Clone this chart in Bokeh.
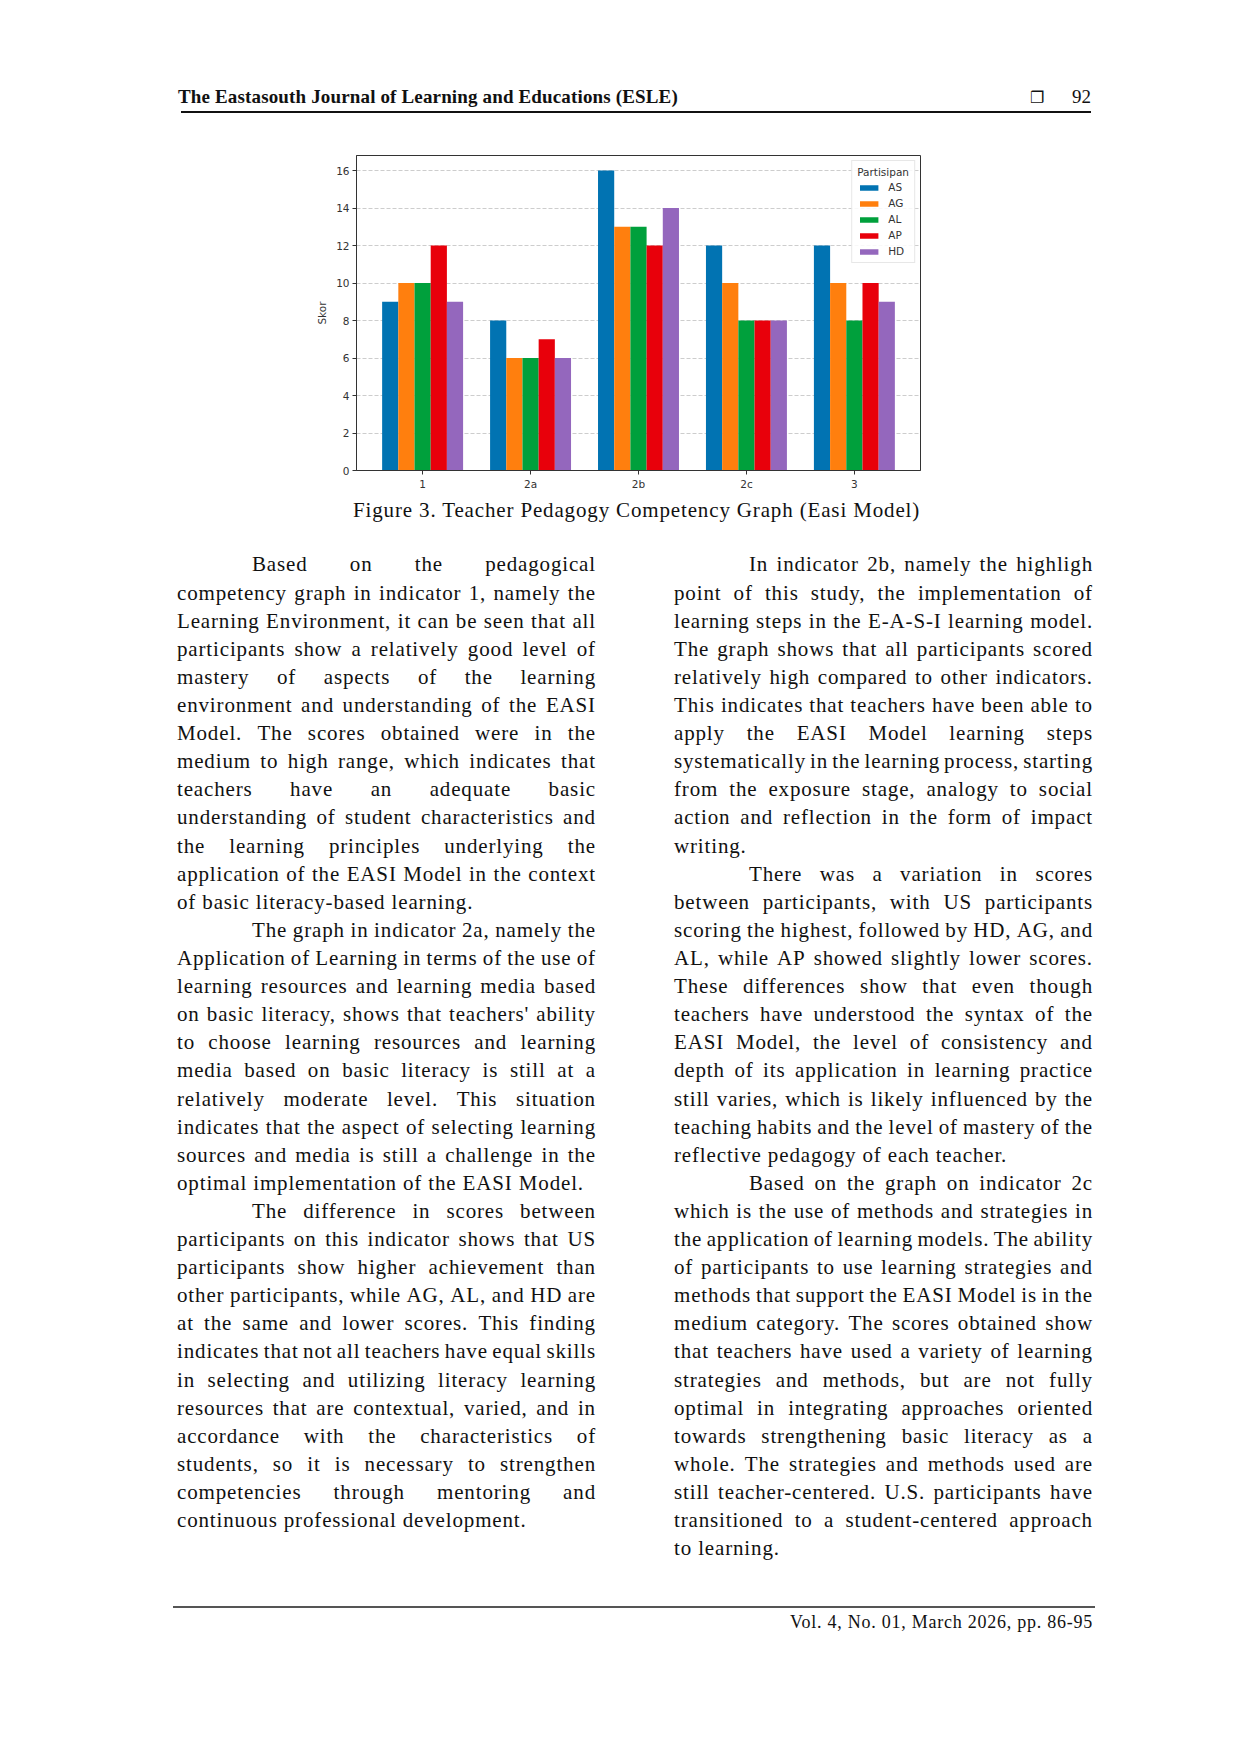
from html import escape
from bokeh.plotting import figure
from bokeh.models import Range1d, FixedTicker, SingleIntervalTicker, Div, Spacer
from bokeh.layouts import column, row
from bokeh.embed import file_html
from bokeh.resources import INLINE

# ---------------- data ----------------
indicators = ["1", "2a", "2b", "2c", "3"]
participants = ["AS", "AG", "AL", "AP", "HD"]
score_AS = [9, 8, 16, 12, 12]
score_AG = [10, 6, 13, 10, 10]
score_AL = [10, 6, 13, 8, 8]
score_AP = [12, 7, 12, 8, 10]
score_HD = [9, 6, 14, 8, 9]
scores = [score_AS, score_AG, score_AL, score_AP, score_HD]
palette = ["#0173b2", "#ff7f0e", "#00a03c", "#e8000b", "#9467bd"]

header_title = "The Eastasouth Journal of Learning and Educations (ESLE)"
page_number = "92"
caption = "Figure 3. Teacher Pedagogy Competency Graph (Easi Model)"
footer = "Vol. 4, No. 01, March 2026, pp. 86-95"

left_paragraphs = [
    ["Based on the pedagogical",
     "competency graph in indicator 1, namely the",
     "Learning Environment, it can be seen that all",
     "participants show a relatively good level of",
     "mastery of aspects of the learning",
     "environment and understanding of the EASI",
     "Model. The scores obtained were in the",
     "medium to high range, which indicates that",
     "teachers have an adequate basic",
     "understanding of student characteristics and",
     "the learning principles underlying the",
     "application of the EASI Model in the context",
     "of basic literacy-based learning."],
    ["The graph in indicator 2a, namely the",
     "Application of Learning in terms of the use of",
     "learning resources and learning media based",
     "on basic literacy, shows that teachers' ability",
     "to choose learning resources and learning",
     "media based on basic literacy is still at a",
     "relatively moderate level. This situation",
     "indicates that the aspect of selecting learning",
     "sources and media is still a challenge in the",
     "optimal implementation of the EASI Model."],
    ["The difference in scores between",
     "participants on this indicator shows that US",
     "participants show higher achievement than",
     "other participants, while AG, AL, and HD are",
     "at the same and lower scores. This finding",
     "indicates that not all teachers have equal skills",
     "in selecting and utilizing literacy learning",
     "resources that are contextual, varied, and in",
     "accordance with the characteristics of",
     "students, so it is necessary to strengthen",
     "competencies through mentoring and",
     "continuous professional development."],
]

right_paragraphs = [
    ["In indicator 2b, namely the highligh",
     "point of this study, the implementation of",
     "learning steps in the E-A-S-I learning model.",
     "The graph shows that all participants scored",
     "relatively high compared to other indicators.",
     "This indicates that teachers have been able to",
     "apply the EASI Model learning steps",
     "systematically in the learning process, starting",
     "from the exposure stage, analogy to social",
     "action and reflection in the form of impact",
     "writing."],
    ["There was a variation in scores",
     "between participants, with US participants",
     "scoring the highest, followed by HD, AG, and",
     "AL, while AP showed slightly lower scores.",
     "These differences show that even though",
     "teachers have understood the syntax of the",
     "EASI Model, the level of consistency and",
     "depth of its application in learning practice",
     "still varies, which is likely influenced by the",
     "teaching habits and the level of mastery of the",
     "reflective pedagogy of each teacher."],
    ["Based on the graph on indicator 2c",
     "which is the use of methods and strategies in",
     "the application of learning models. The ability",
     "of participants to use learning strategies and",
     "methods that support the EASI Model is in the",
     "medium category. The scores obtained show",
     "that teachers have used a variety of learning",
     "strategies and methods, but are not fully",
     "optimal in integrating approaches oriented",
     "towards strengthening basic literacy as a",
     "whole. The strategies and methods used are",
     "still teacher-centered. U.S. participants have",
     "transitioned to a student-centered approach",
     "to learning."],
]

# ---------------- chart ----------------
n_cat = len(indicators)
n_ser = len(participants)
bar_w = 0.15
half = n_ser * bar_w / 2
xpad = (n_cat - 1 + 2 * half) * 0.05
ymax = max(max(s) for s in scores) * 1.05

p = figure(width=625, height=355,
           x_range=Range1d(-half - xpad, n_cat - 1 + half + xpad),
           y_range=Range1d(0, ymax),
           output_backend="svg", toolbar_location=None,
           min_border_left=51, min_border_right=10,
           min_border_top=15, min_border_bottom=25,
           background_fill_color="white", border_fill_color="white")

for j, (name, vals) in enumerate(zip(participants, scores)):
    xs = [i + (j - (n_ser - 1) / 2) * bar_w for i in range(n_cat)]
    p.vbar(x=xs, top=vals, width=bar_w, bottom=0,
           fill_color=palette[j], line_color=None, legend_label=name)

p.outline_line_color = "#333333"
p.outline_line_width = 1

p.xaxis.ticker = FixedTicker(ticks=list(range(n_cat)))
p.xaxis.major_label_overrides = {i: c for i, c in enumerate(indicators)}
p.yaxis.ticker = SingleIntervalTicker(interval=2, num_minor_ticks=0)
p.yaxis.axis_label = "Skor"

for ax in (p.xaxis[0], p.yaxis[0]):
    ax.axis_line_color = "#333333"
    ax.major_tick_line_color = "#333333"
    ax.major_tick_out = 4
    ax.major_tick_in = 0
    ax.minor_tick_line_color = None
    ax.major_label_text_font = "DejaVu Sans"
    ax.major_label_text_font_size = "10.5px"
    ax.major_label_text_color = "#333333"
    ax.major_label_standoff = 3
    ax.axis_label_text_font = "DejaVu Sans"
    ax.axis_label_text_font_size = "10.5px"
    ax.axis_label_text_font_style = "normal"
    ax.axis_label_text_color = "#333333"
    ax.axis_label_standoff = 5

p.xgrid.visible = False
p.ygrid.grid_line_color = "#b8b8b8"
p.ygrid.grid_line_alpha = 0.7
p.ygrid.grid_line_dash = "4 2"

lg = p.legend[0]
lg.title = "Partisipan"
lg.title_text_font = "DejaVu Sans"
lg.title_text_font_size = "10.5px"
lg.title_text_font_style = "normal"
lg.title_text_color = "#333333"
lg.title_standoff = 3
lg.label_text_font = "DejaVu Sans"
lg.label_text_font_size = "10.5px"
lg.label_text_color = "#333333"
lg.location = "top_right"
lg.glyph_width = 23
lg.glyph_height = 7
lg.label_height = 12
lg.label_standoff = 8
lg.spacing = 4
lg.padding = 5
lg.margin = 5
lg.border_line_color = "#d0d0d0"
lg.background_fill_alpha = 0.85

# ---------------- page text ----------------
ASC, DESC = 0.891, 0.216  # Liberation Serif metrics


def top_for(baseline, fs, lh, asc=ASC, desc=DESC):
    return baseline - ((lh - (asc + desc) * fs) / 2 + asc * fs)


SERIF = "font-family:'Liberation Serif',serif;color:#111;"

# header (div origin at page (0, 0))
HDR_H = 140
hdr = [f'<div style="position:relative;width:1224px;height:{HDR_H}px;">']
hdr.append(
    f'<div style="position:absolute;left:178px;top:{top_for(103.3, 19, 19):.2f}px;'
    f'{SERIF}font-size:19px;line-height:19px;font-weight:bold;letter-spacing:0.15px;white-space:nowrap;">'
    f'{escape(header_title)}</div>')
hdr.append(
    '<div style="position:absolute;left:181px;top:110.5px;width:910px;height:2.6px;background:#111;"></div>')
hdr.append(
    f'<div style="position:absolute;left:1030px;top:{top_for(103.5, 16, 16, 0.928, 0.236):.2f}px;'
    f'font-family:\'DejaVu Sans\',sans-serif;font-size:16px;line-height:16px;color:#111;white-space:nowrap;">&#x2750;</div>')
hdr.append(
    f'<div style="position:absolute;left:1072px;top:{top_for(103.3, 19, 19):.2f}px;'
    f'{SERIF}font-size:19px;line-height:19px;white-space:nowrap;">{page_number}</div>')
hdr.append('</div>')
header_div = Div(text="".join(hdr), width=1224, height=HDR_H, margin=0)

# rest of page (div origin at page (0, 495))
ry = HDR_H + 355
REST_H = 1250
FS, LH = 21, 28
BODY = f"{SERIF}font-size:{FS}px;line-height:{LH}px;letter-spacing:0.85px;"
first_baseline = 571.5
step = 28.11

rest = [f'<div style="position:relative;width:1224px;height:{REST_H}px;">']
rest.append(
    f'<div style="position:absolute;left:353px;top:{top_for(518 - ry, 21, 21):.2f}px;'
    f'{SERIF}font-size:21px;line-height:21px;letter-spacing:0.85px;white-space:nowrap;">{escape(caption)}</div>')


def column_html(paragraphs, x0, width, indent):
    out = []
    k = 0
    for para in paragraphs:
        for li, text in enumerate(para):
            top = top_for(first_baseline + k * step - ry, FS, LH)
            ind = indent if li == 0 else 0
            if li < len(para) - 1:
                spans = "".join(f"<span>{escape(w)}</span>" for w in text.split())
                out.append(
                    f'<div style="position:absolute;left:{x0}px;top:{top:.2f}px;width:{width}px;height:{LH}px;'
                    f'display:flex;justify-content:space-between;box-sizing:border-box;padding-left:{ind}px;'
                    f'white-space:nowrap;{BODY}">{spans}</div>')
            else:
                out.append(
                    f'<div style="position:absolute;left:{x0}px;top:{top:.2f}px;height:{LH}px;'
                    f'padding-left:{ind}px;white-space:nowrap;{BODY}">{escape(text)}</div>')
            k += 1
    return out


rest += column_html(left_paragraphs, 177, 419, 75)
rest += column_html(right_paragraphs, 674, 419, 75)

rest.append(
    f'<div style="position:absolute;left:173px;top:{1606.3 - ry}px;width:922px;height:1.6px;background:#555;"></div>')
rest.append(
    f'<div style="position:absolute;left:600px;width:{1093 - 600}px;text-align:right;'
    f'top:{top_for(1628 - ry, 18, 18):.2f}px;{SERIF}font-size:18px;line-height:18px;letter-spacing:0.75px;'
    f'white-space:nowrap;">{escape(footer)}</div>')
rest.append('</div>')
rest_div = Div(text="".join(rest), width=1224, height=REST_H, margin=0)

layout = column(header_div,
                row(Spacer(width=305, height=355, margin=0), p, spacing=0),
                rest_div, spacing=0)

open("out.html", "w").write(file_html(layout, INLINE))
